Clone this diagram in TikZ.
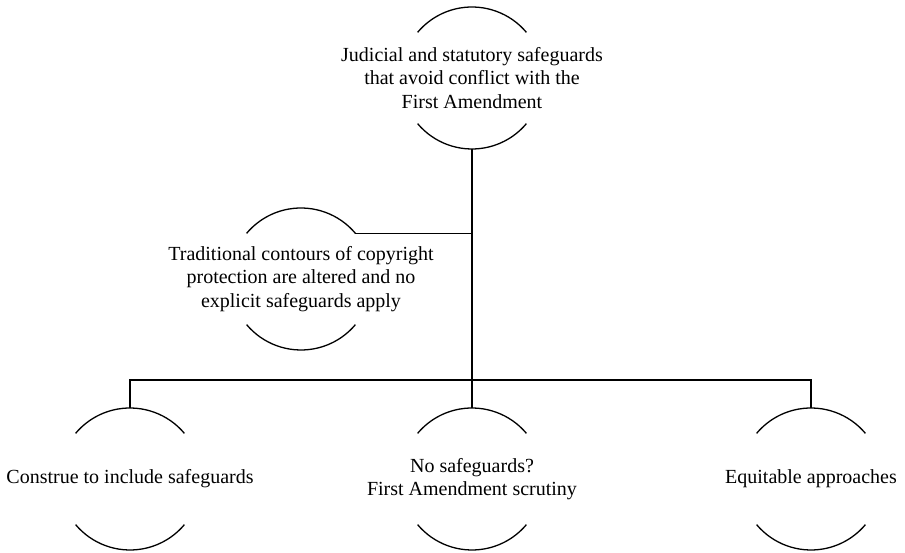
\documentclass[tikz,border=0pt]{standalone}
\usepackage{fontspec}
\setmainfont{Liberation Serif}
\begin{document}
\begin{tikzpicture}[x=1pt,y=1pt,line width=1.3pt,
  pod/.style={align=center,inner sep=0pt,font=\fontsize{20}{23.5}\selectfont}]
\useasboundingbox (0,0) rectangle (905,553);
\node[pod] (judicial) at (472,475) {Judicial and statutory safeguards\\that avoid conflict with the\\First Amendment};
\node[pod] (altered) at (301,274) {Traditional contours of copyright\\protection are altered and no\\explicit safeguards apply};
\node[pod] (construe) at (130,74) {Construe to include safeguards};
\node[pod] (scrutiny) at (472,74) {No safeguards?\\First Amendment scrutiny};
\node[pod] (equitable) at (811,74) {Equitable approaches};
\foreach \n in {judicial,altered,construe,scrutiny,equitable}{
  \draw ([shift={(40:71)}]\n.center) arc[start angle=40,end angle=140,radius=71];
  \draw ([shift={(220:71)}]\n.center) arc[start angle=220,end angle=320,radius=71];
  \coordinate (\n-top) at ([yshift=71pt]\n.center);
  \coordinate (\n-bot) at ([yshift=-71pt]\n.center);
  \coordinate (\n-ne) at ([shift={(40:71)}]\n.center);
}
\coordinate (bar) at (472,173);
\draw (judicial-bot)--(scrutiny-top);
\draw (altered-ne)--(altered-ne -| judicial-bot);
\draw (construe-top) |- (bar) -| (equitable-top);
\end{tikzpicture}
\end{document}
